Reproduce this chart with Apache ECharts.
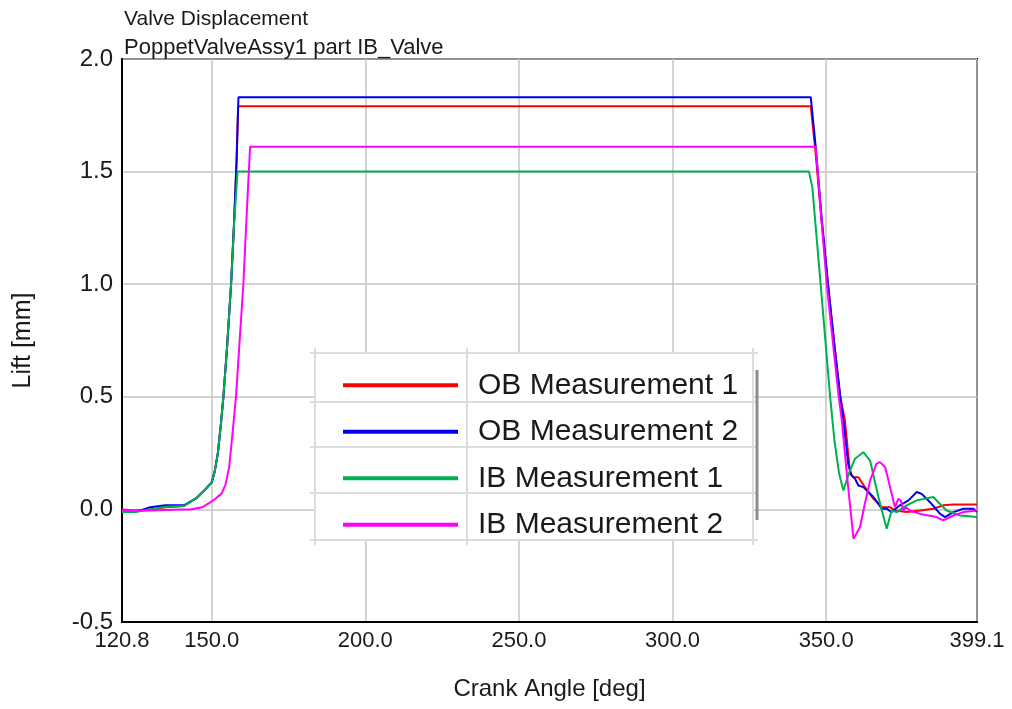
<!DOCTYPE html>
<html>
<head>
<meta charset="utf-8">
<title>Valve Displacement</title>
<script src="https://cdn.jsdelivr.net/npm/echarts@6/dist/echarts.min.js"></script>
<style>
  html, body { margin: 0; padding: 0; background: #fff; }
  #chart { width: 1012px; height: 709px; }
</style>
</head>
<body>
<div id="chart"></div>
<script>
// crank angle [deg], lift [mm]
var ob1 = [
  [120.8, 0.0], [125, -0.005], [130, 0.0], [135, 0.01], [141, 0.015], [145, 0.05],
  [148, 0.09], [150, 0.12], [151, 0.17], [152, 0.25], [153, 0.38], [153.8, 0.5],
  [155, 0.72], [156.3, 1.0], [157.2, 1.25], [158.1, 1.55], [158.6, 1.79],
  [345.0, 1.79], [346.6, 1.58], [348.5, 1.28], [350.6, 1.0], [352.6, 0.74],
  [354.6, 0.5], [356.1, 0.395], [357.8, 0.158], [358.9, 0.143], [360.5, 0.143],
  [362.6, 0.099], [365.4, 0.047], [368.1, 0.01], [370.8, 0.01], [372.4, -0.005],
  [376.2, -0.012], [380.6, -0.005], [384.9, 0.003], [388.1, 0.018], [391.4, 0.022],
  [399.1, 0.022]
];
var ob2 = [
  [120.8, -0.012], [125, -0.012], [130, 0.01], [135, 0.018], [141, 0.018], [145, 0.05],
  [148, 0.09], [150, 0.12], [151, 0.17], [152, 0.25], [153, 0.38], [153.8, 0.5],
  [155, 0.72], [156.3, 1.0], [157.2, 1.25], [158.1, 1.55], [158.7, 1.83],
  [345.0, 1.83], [346.6, 1.61], [348.5, 1.3], [350.6, 1.0], [352.6, 0.74],
  [354.6, 0.5], [355.6, 0.395], [357.2, 0.2], [358.3, 0.151], [359.4, 0.136],
  [360.5, 0.106], [362.1, 0.099], [365.4, 0.055], [368.1, 0.003], [369.7, 0.003],
  [371.3, -0.012], [374.0, 0.018], [376.8, 0.04], [379.5, 0.077], [381.1, 0.069],
  [383.8, 0.032], [387.1, -0.02], [388.7, -0.034], [391.4, -0.012], [394.7, 0.003],
  [397.9, 0.003], [399.1, -0.012]
];
var ib1 = [
  [120.8, -0.012], [125, -0.012], [130, 0.0], [135, 0.012], [141, 0.015], [145, 0.05],
  [148, 0.09], [150, 0.12], [151, 0.17], [152, 0.25], [153, 0.38], [153.8, 0.5],
  [155, 0.72], [156.3, 1.0], [157.3, 1.27], [158.4, 1.5],
  [344.4, 1.5], [345.5, 1.43], [348.2, 1.0], [351.3, 0.5], [352.7, 0.306],
  [354.2, 0.16], [355.6, 0.084], [357.4, 0.16], [359.4, 0.225], [362.1, 0.254],
  [364.3, 0.217], [367.0, 0.055], [369.7, -0.086], [371.3, -0.005], [373.0, -0.012],
  [376.2, 0.018], [379.5, 0.04], [384.9, 0.055], [386.5, 0.032], [389.2, -0.005],
  [393.6, -0.027], [399.1, -0.034]
];
var ib2 = [
  [120.8, -0.005], [130, -0.005], [140, 0.0], [143, 0.0], [147, 0.01], [149.4, 0.03],
  [151, 0.045], [153.2, 0.07], [154.5, 0.11], [155.7, 0.19], [156.8, 0.34],
  [157.9, 0.5], [159.1, 0.75], [160.3, 1.0], [161.6, 1.37], [162.5, 1.61],
  [346.6, 1.61], [348.4, 1.3], [350.2, 1.0], [352.2, 0.74], [354.1, 0.5],
  [355.1, 0.395], [357.0, 0.12], [358.9, -0.13], [361.0, -0.079], [362.6, 0.025],
  [364.3, 0.129], [366.4, 0.203], [367.5, 0.21], [369.2, 0.188], [370.8, 0.099],
  [372.4, 0.01], [373.5, 0.047], [374.3, 0.04], [375.1, -0.005], [376.0, 0.01],
  [377.3, -0.005], [380.6, -0.02], [386.0, -0.034], [388.1, -0.049], [391.4, -0.027],
  [394.7, -0.012], [399.1, -0.005]
];

var seriesNames = ['OB Measurement 1', 'OB Measurement 2', 'IB Measurement 1', 'IB Measurement 2'];
var seriesColors = ['#ff0000', '#0000ee', '#00b050', '#ff00ff'];
var xTicks = [120.8, 150, 200, 250, 300, 350, 399.1];

var font = '"Liberation Sans", Arial, sans-serif';
var gridColor = '#dcdcdc';

var chart = echarts.init(document.getElementById('chart'));

var option = {
  animation: false,
  backgroundColor: '#fff',
  title: [
    {
      text: 'Valve Displacement',
      left: 119, top: 4,
      textStyle: { fontFamily: font, fontSize: 21, fontWeight: 'normal', color: '#1a1a1a' }
    },
    {
      text: 'PoppetValveAssy1 part IB_Valve',
      left: 119, top: 32,
      textStyle: { fontFamily: font, fontSize: 22, fontWeight: 'normal', color: '#1a1a1a' }
    }
  ],
  grid: {
    left: 122, right: 35, top: 59, bottom: 87,
    show: true, borderColor: '#000', borderWidth: 2,
    outerBoundsMode: 'none'
  },
  legend: {
    orient: 'vertical',
    left: 338, top: 357,
    z: 4,
    itemGap: 0,
    icon: 'rect',
    itemWidth: 115, itemHeight: 4,
    data: seriesNames,
    textStyle: {
      fontFamily: font, fontSize: 30, color: '#1a1a1a',
      lineHeight: 46.5, padding: [0, 0, 0, 15]
    }
  },
  graphic: [
    { type: 'rect', z: 3, shape: { x: 315, y: 353, width: 438, height: 187 }, style: { fill: '#fff' } },
    { type: 'line', z: 6, shape: { x1: 310, y1: 353, x2: 758, y2: 353 }, style: { stroke: gridColor, lineWidth: 2 } },
    { type: 'line', z: 6, shape: { x1: 310, y1: 402, x2: 758, y2: 402 }, style: { stroke: gridColor, lineWidth: 2 } },
    { type: 'line', z: 6, shape: { x1: 310, y1: 447, x2: 758, y2: 447 }, style: { stroke: gridColor, lineWidth: 2 } },
    { type: 'line', z: 6, shape: { x1: 310, y1: 493, x2: 758, y2: 493 }, style: { stroke: gridColor, lineWidth: 2 } },
    { type: 'line', z: 6, shape: { x1: 310, y1: 540, x2: 758, y2: 540 }, style: { stroke: gridColor, lineWidth: 2 } },
    { type: 'line', z: 6, shape: { x1: 315, y1: 348, x2: 315, y2: 545 }, style: { stroke: gridColor, lineWidth: 2 } },
    { type: 'line', z: 6, shape: { x1: 467, y1: 348, x2: 467, y2: 545 }, style: { stroke: gridColor, lineWidth: 2 } },
    { type: 'line', z: 6, shape: { x1: 753, y1: 348, x2: 753, y2: 545 }, style: { stroke: gridColor, lineWidth: 2 } },
    { type: 'line', z: 6, shape: { x1: 757, y1: 370, x2: 757, y2: 520 }, style: { stroke: '#8c8c8c', lineWidth: 3 } }
  ],
  xAxis: {
    type: 'value',
    min: 120.8, max: 399.1,
    name: 'Crank Angle [deg]',
    nameLocation: 'middle',
    nameGap: 55,
    nameTextStyle: { fontFamily: font, fontSize: 24, color: '#1a1a1a' },
    axisLine: { show: true, onZero: false, lineStyle: { color: '#000', width: 2 } },
    axisTick: { show: false, customValues: xTicks },
    axisLabel: {
      customValues: xTicks,
      margin: 8,
      fontFamily: font, fontSize: 22, color: '#1a1a1a',
      formatter: function (v) { return v.toFixed(1); }
    },
    splitLine: { show: true, lineStyle: { color: '#c4c4c4', width: 1.5 } }
  },
  yAxis: {
    type: 'value',
    min: -0.5, max: 2.0, interval: 0.5,
    name: 'Lift [mm]',
    nameLocation: 'middle',
    nameGap: 86,
    nameTextStyle: { fontFamily: font, fontSize: 25, color: '#1a1a1a' },
    axisLine: { show: true, onZero: false, lineStyle: { color: '#000', width: 2 } },
    axisTick: { show: false },
    axisLabel: {
      margin: 9,
      fontFamily: font, fontSize: 24, color: '#1a1a1a',
      formatter: function (v) { return v.toFixed(1); }
    },
    splitLine: { show: true, lineStyle: { color: '#c4c4c4', width: 1.5 } }
  },
  series: [ob1, ob2, ib1, ib2].map(function (d, i) {
    return {
      name: seriesNames[i],
      type: 'line',
      data: d,
      showSymbol: false,
      color: seriesColors[i],
      lineStyle: { width: 2, color: seriesColors[i] },
      z: 2
    };
  })
};

chart.setOption(option);
</script>
</body>
</html>
